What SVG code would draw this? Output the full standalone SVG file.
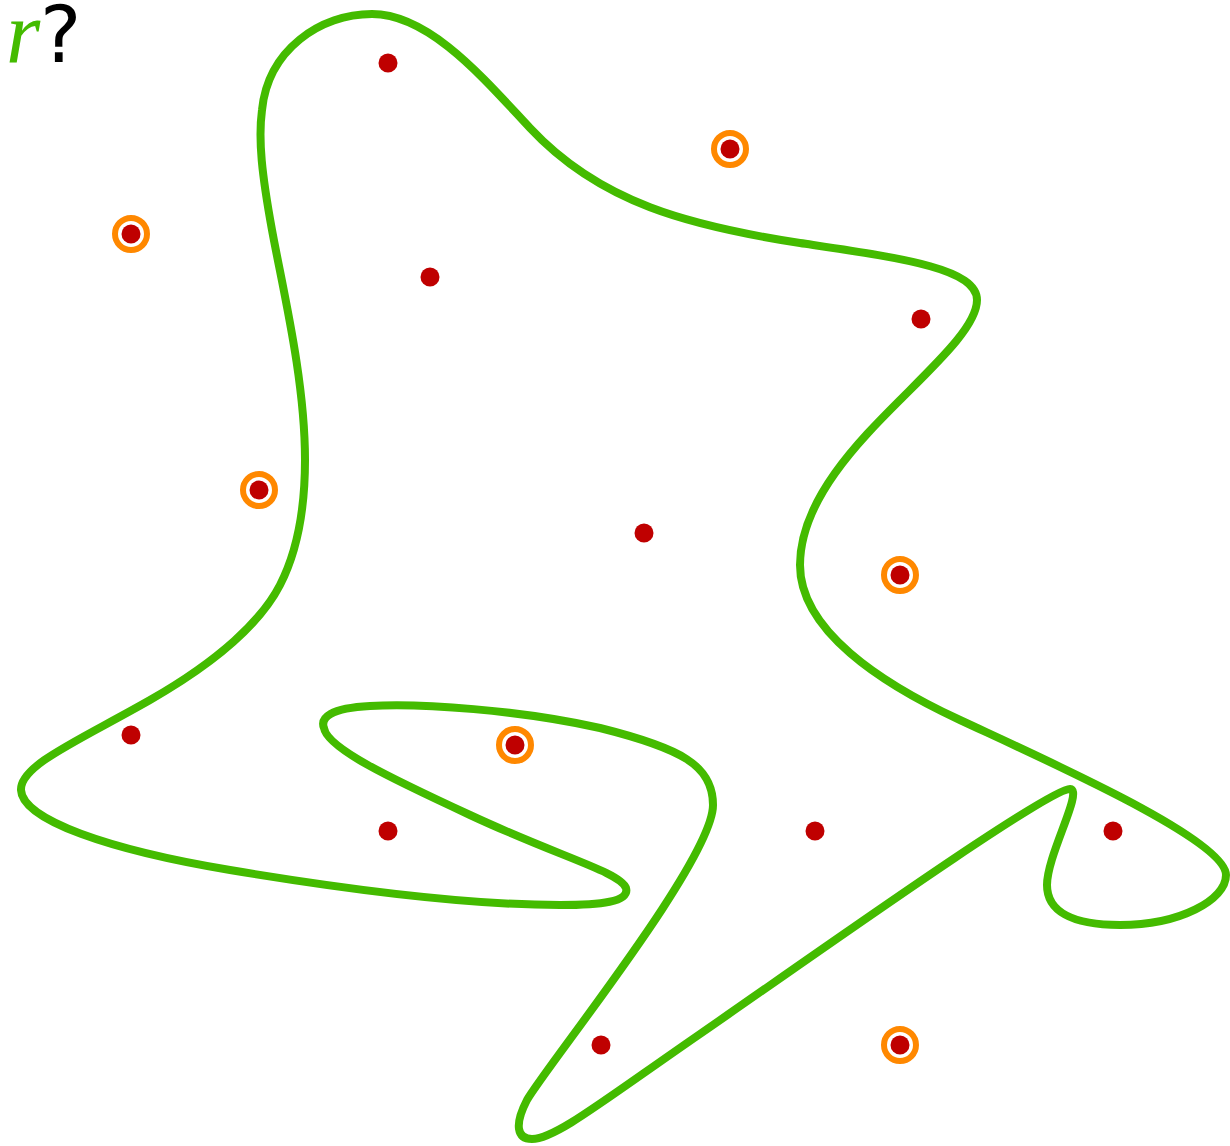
<svg xmlns="http://www.w3.org/2000/svg" width="1230" height="1146" viewBox="0 0 1230 1146">
<defs>
<style>
.curve{fill:none;stroke:#44BB00;stroke-width:8;stroke-linejoin:round}
.dot{fill:#BF0000}
.ring{fill:#FFFFFF;stroke:#FF8800;stroke-width:6}
.lbl{font-family:"DejaVu Sans","Noto Sans",sans-serif;font-size:78px;fill:#000}
.var{font-family:"Liberation Serif",serif;font-style:italic;font-size:88px;fill:#44BB00}
</style>
<g id="m"><circle class="ring" r="16"/><circle class="dot" r="9.5"/></g>
</defs>
<rect width="1230" height="1146" fill="#FFFFFF"/>
<g id="label"><text x="6" y="62"><tspan class="var">r</tspan><tspan class="lbl" x="40">?</tspan></text></g>
<g id="connectors">
<path id="region" class="curve" d="M372,14 C430,14 485,80 530,128 C600,203 690,226 800,243 C900,258 977,268 977,300 C977,325 940,360 900,400 C860,440 800,500 800,565 C800,630 880,683 960,720 C1050,762 1226,840 1226,875 C1226,900 1180,925 1120,925 C1070,925 1047,910 1047,885 C1047,855 1084,790 1070,789 C1047,789 800,965 700,1034 C600,1103 555,1139 532,1139 C517,1139 514,1125 527,1100 C547,1065 713,860 713,805 C713,765 680,748 600,728 C520,710 420,703 370,706 C330,708 320,718 324,728 C327,748 390,778 470,815 C560,857 620,872 626,888 C630,902 600,905 560,905 C470,905 350,890 230,870 C110,850 22,820 21,790 C20,765 80,740 150,700 C220,660 262,620 280,585 C298,550 305,510 305,460 C305,380 283,290 272,230 C262,175 258,140 262,110 C268,50 320,14 372,14 Z"/>
</g>
<g id="p1"><circle class="dot" cx="388" cy="63" r="9.5"/></g>
<g id="p2"><circle class="dot" cx="430" cy="277" r="9.5"/></g>
<g id="p3"><circle class="dot" cx="921" cy="319" r="9.5"/></g>
<g id="p4"><circle class="dot" cx="644" cy="533" r="9.5"/></g>
<g id="p5"><circle class="dot" cx="131" cy="735" r="9.5"/></g>
<g id="p6"><circle class="dot" cx="388" cy="831" r="9.5"/></g>
<g id="p7"><circle class="dot" cx="815" cy="831" r="9.5"/></g>
<g id="p8"><circle class="dot" cx="1113" cy="831" r="9.5"/></g>
<g id="p9"><circle class="dot" cx="601" cy="1045" r="9.5"/></g>
<g id="q1"><use href="#m" x="730" y="149"/></g>
<g id="q2"><use href="#m" x="131" y="234"/></g>
<g id="q3"><use href="#m" x="259" y="490"/></g>
<g id="q4"><use href="#m" x="900" y="575"/></g>
<g id="q5"><use href="#m" x="515" y="745"/></g>
<g id="q6"><use href="#m" x="900" y="1045"/></g>
</svg>
